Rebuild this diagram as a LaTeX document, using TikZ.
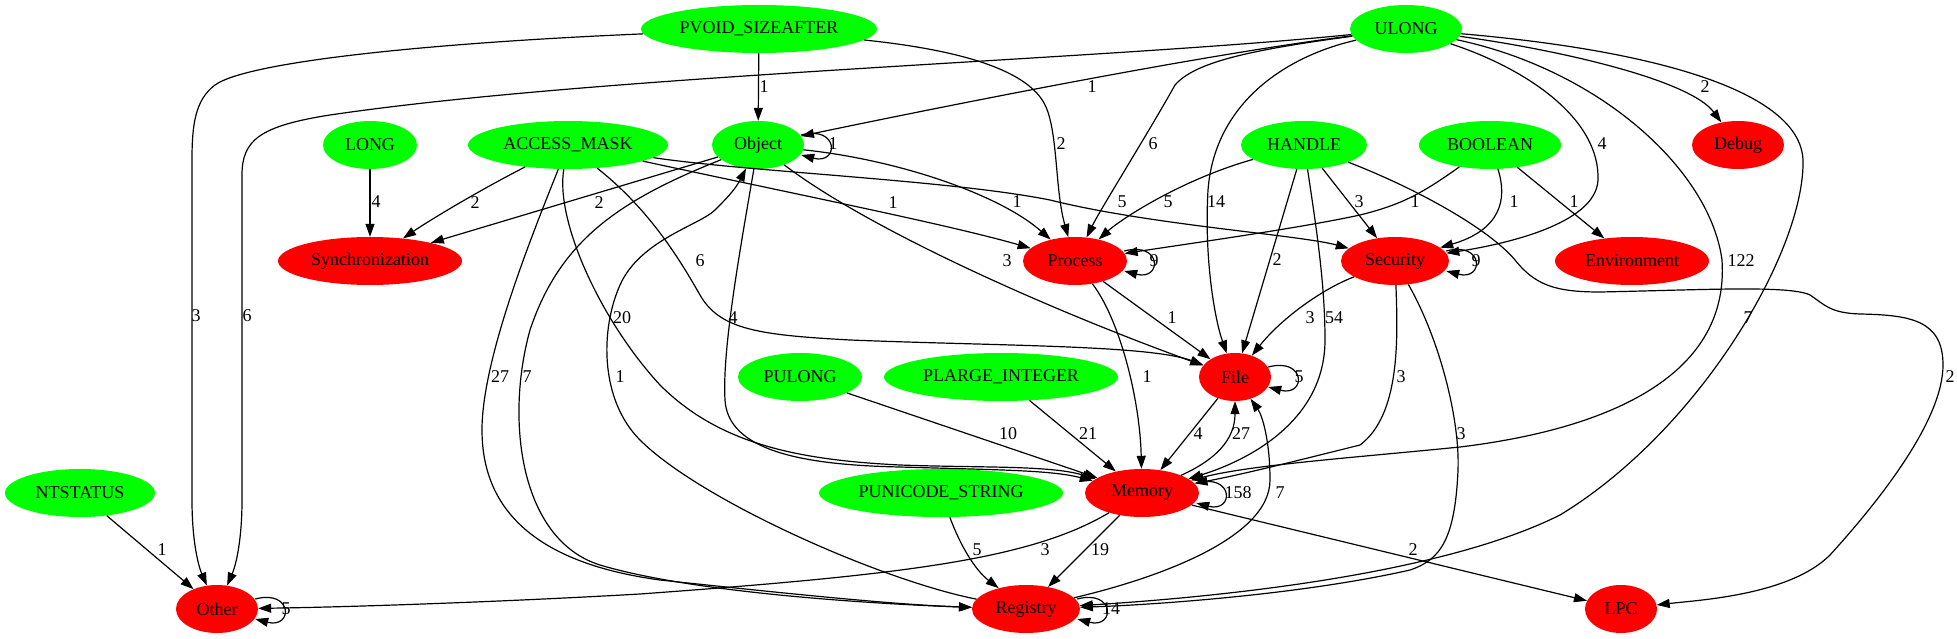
\documentclass[tikz,border=0pt]{standalone}
\usepackage{fontspec}
\setmainfont{Liberation Serif}
\usetikzlibrary{shapes.geometric,arrows.meta}
\definecolor{grn}{RGB}{0,255,0}
\definecolor{rd}{RGB}{255,0,0}
\begin{document}
\begin{tikzpicture}[x=1pt,y=-1pt,
 gnode/.style={ellipse,inner sep=0pt,minimum height=48pt,font=\fontsize{18}{20}\selectfont},
 gin/.style={gnode,fill=grn},
 rin/.style={gnode,fill=rd},
 edge/.style={-{Triangle[length=13pt,width=9pt]},line width=1.2pt},
 lbl/.style={inner sep=0pt,font=\fontsize{18}{20}\selectfont}]
\fill[white] (0,0) rectangle (1957,639);
\useasboundingbox (0,0) rectangle (1957,639);
% nodes
\node[gin,minimum width=236pt] (PVOID) at (759,29) {PVOID\_SIZEAFTER};
\node[gin,minimum width=112pt] (ULONG) at (1406,29) {ULONG};
\node[gin,minimum width=94pt] (LONG) at (370,145) {LONG};
\node[gin,minimum width=200pt] (ACCESS) at (568,145) {ACCESS\_MASK};
\node[gin,minimum width=92pt] (Object) at (758,145) {Object};
\node[gin,minimum width=126pt] (HANDLE) at (1304,145) {HANDLE};
\node[gin,minimum width=142pt] (BOOLEAN) at (1490,145) {BOOLEAN};
\node[rin,minimum width=92pt] (Debug) at (1738,145) {Debug};
\node[rin,minimum width=184pt] (Sync) at (370,261) {Synchronization};
\node[rin,minimum width=104pt] (Process) at (1075,261) {Process};
\node[rin,minimum width=108pt] (Security) at (1395,261) {Security};
\node[rin,minimum width=154pt] (Env) at (1632,261) {Environment};
\node[gin,minimum width=124pt] (PULONG) at (800,377) {PULONG};
\node[gin,minimum width=234pt] (PLARGE) at (1001,377) {PLARGE\_INTEGER};
\node[rin,minimum width=72pt] (File) at (1235,377) {File};
\node[gin,minimum width=150pt] (NTSTATUS) at (80,493) {NTSTATUS};
\node[gin,minimum width=244pt] (PUNI) at (941,493) {PUNICODE\_STRING};
\node[rin,minimum width=114pt] (Memory) at (1142,493) {Memory};
\node[rin,minimum width=82pt] (Other) at (217,609) {Other};
\node[rin,minimum width=108pt] (Registry) at (1026,609) {Registry};
\node[rin,minimum width=72pt] (LPC) at (1621,609) {LPC};
% edges from PVOID_SIZEAFTER
\draw[edge] (PVOID) .. controls (450,42) and (250,60) .. (215,85) .. controls (195,100) and (192,125) .. (192,160) -- (192,500) .. controls (192,540) and (198,565) .. (Other);
\draw[edge] (PVOID) -- (Object);
\draw[edge] (PVOID) .. controls (960,50) and (1030,70) .. (1046,107) .. controls (1058,135) and (1055,190) .. (Process);
% edges from ULONG
\draw[edge] (ULONG) .. controls (1100,60) and (600,75) .. (330,115) .. controls (260,126) and (242,140) .. (242,175) -- (242,500) .. controls (242,540) and (236,565) .. (Other);
\draw[edge] (ULONG) .. controls (1200,55) and (950,105) .. (Object);
\draw[edge] (ULONG) .. controls (1250,50) and (1195,62) .. (1175,85) .. controls (1150,130) and (1100,210) .. (Process);
\draw[edge] (ULONG) .. controls (1290,55) and (1215,100) .. (1208,190) .. controls (1204,260) and (1215,320) .. (File);
\draw[edge] (ULONG) .. controls (1560,50) and (1690,80) .. (Debug);
\draw[edge] (ULONG) .. controls (1530,70) and (1600,120) .. (1598,180) .. controls (1596,225) and (1500,245) .. (Security);
\draw[edge] (ULONG) .. controls (1600,70) and (1710,170) .. (1722,260) .. controls (1730,380) and (1600,430) .. (1460,447) .. controls (1350,458) and (1250,465) .. (Memory);
\draw[edge] (ULONG) .. controls (1650,50) and (1800,90) .. (1803,160) .. controls (1805,250) and (1700,430) .. (1560,515) .. controls (1450,570) and (1250,595) .. (Registry);
% LONG
\draw[edge] (LONG) -- (Sync);
% ACCESS_MASK
\draw[edge] (ACCESS) .. controls (480,190) and (430,220) .. (Sync);
\draw[edge] (ACCESS) .. controls (800,195) and (950,225) .. (Process);
\draw[edge] (ACCESS) .. controls (750,172) and (950,180) .. (1050,200) .. controls (1150,225) and (1300,235) .. (Security);
\draw[edge] (ACCESS) .. controls (650,210) and (680,260) .. (700,295) .. controls (720,330) and (760,335) .. (850,340) .. controls (1000,346) and (1150,345) .. (File);
\draw[edge] (ACCESS) .. controls (555,220) and (600,320) .. (660,385) .. controls (720,445) and (800,460) .. (900,465) .. controls (980,468) and (1050,465) .. (Memory);
\draw[edge] (ACCESS) .. controls (530,240) and (482,360) .. (482,430) .. controls (482,520) and (550,565) .. (660,580) .. controls (800,595) and (900,605) .. (Registry);
% Object
\draw[edge] ([shift={(-3,-10)}]Object.east) .. controls +(38,-10) and +(38,10) .. ([shift={(-3,10)}]Object.east);
\draw[edge] (Object) -- (Sync);
\draw[edge] (Object) .. controls (900,160) and (1000,195) .. (Process);
\draw[edge] (Object) .. controls (870,230) and (1050,310) .. (File);
\draw[edge] (Object) .. controls (740,250) and (722,350) .. (725,400) .. controls (728,450) and (800,465) .. (900,467) .. controls (1000,470) and (1050,470) .. (Memory);
\draw[edge] (Object) .. controls (620,200) and (560,240) .. (530,330) .. controls (505,420) and (520,540) .. (600,565) .. controls (700,595) and (900,605) .. (Registry);
% Registry -> Object
\draw[edge] (Registry) .. controls (880,580) and (700,500) .. (640,440) .. controls (600,400) and (600,330) .. (620,285) .. controls (640,240) and (700,225) .. (715,210) .. controls (725,200) and (735,190) .. (Object);
% HANDLE
\draw[edge] (HANDLE) .. controls (1180,180) and (1120,220) .. (Process);
\draw[edge] (HANDLE) -- (File);
\draw[edge] (HANDLE) .. controls (1315,220) and (1325,280) .. (1325,340) .. controls (1325,420) and (1250,460) .. (Memory);
\draw[edge] (HANDLE) -- (Security);
\draw[edge] (HANDLE) .. controls (1420,190) and (1490,230) .. (1515,260) .. controls (1535,285) and (1555,292) .. (1600,292) .. controls (1700,290) and (1790,285) .. (1810,295) .. controls (1825,305) and (1830,313) .. (1860,314) .. controls (1910,315) and (1943,320) .. (1943,365) .. controls (1943,420) and (1880,500) .. (1830,555) .. controls (1790,595) and (1700,600) .. (LPC);
% BOOLEAN
\draw[edge] (BOOLEAN) .. controls (1420,195) and (1400,205) .. (1360,215) .. controls (1300,228) and (1200,242) .. (Process);
\draw[edge] (BOOLEAN) .. controls (1508,200) and (1500,230) .. (Security);
\draw[edge] (BOOLEAN) -- (Env);
% Process
\draw[edge] ([shift={(-3,-10)}]Process.east) .. controls +(38,-10) and +(38,10) .. ([shift={(-3,10)}]Process.east);
\draw[edge] (Process) -- (File);
\draw[edge] (Process) .. controls (1120,320) and (1140,400) .. (Memory);
% Security
\draw[edge] ([shift={(-3,-10)}]Security.east) .. controls +(38,-10) and +(38,10) .. ([shift={(-3,10)}]Security.east);
\draw[edge] (Security) .. controls (1320,290) and (1280,320) .. (File);
\draw[edge] (Security) .. controls (1398,340) and (1400,415) .. (1360,445) .. controls (1300,460) and (1240,475) .. (Memory);
\draw[edge] (Security) .. controls (1440,340) and (1460,420) .. (1458,470) .. controls (1455,540) and (1440,560) .. (1410,570) .. controls (1300,595) and (1150,605) .. (Registry);
% PULONG, PLARGE
\draw[edge] (PULONG) -- (Memory);
\draw[edge] (PLARGE) -- (Memory);
% File
\draw[edge] ([shift={(-3,-10)}]File.east) .. controls +(38,-10) and +(38,10) .. ([shift={(-3,10)}]File.east);
\draw[edge] (File) -- (Memory);
% Memory
\draw[edge] (Memory) .. controls (1215,460) and (1235,440) .. (File);
\draw[edge] ([shift={(-3,-10)}]Memory.east) .. controls +(38,-10) and +(38,10) .. ([shift={(-3,10)}]Memory.east);
\draw[edge] (Memory) .. controls (1030,560) and (900,575) .. (640,594) .. controls (500,602) and (350,607) .. (Other);
\draw[edge] (Memory) -- (Registry);
\draw[edge] (Memory) -- (LPC);
% PUNICODE, NTSTATUS
\draw[edge] (PUNI) .. controls (960,545) and (975,570) .. (Registry);
\draw[edge] (NTSTATUS) -- (Other);
% Other, Registry
\draw[edge] ([shift={(-3,-10)}]Other.east) .. controls +(38,-10) and +(38,10) .. ([shift={(-3,10)}]Other.east);
\draw[edge] ([shift={(-3,-10)}]Registry.east) .. controls +(38,-10) and +(38,10) .. ([shift={(-3,10)}]Registry.east);
\draw[edge] (Registry) .. controls (1150,580) and (1270,540) .. (1270,480) .. controls (1270,440) and (1262,415) .. (File);
% labels
\node[lbl] (l1) at (196,316) {3};
\node[lbl] (l2) at (247,316) {6};
\node[lbl] (l3) at (764,87) {1};
\node[lbl] (l4) at (1061,144) {2};
\node[lbl] (l5) at (1092,87) {1};
\node[lbl] (l6) at (1153,144) {6};
\node[lbl] (l7) at (1216,202) {14};
\node[lbl] (l8) at (1705,87) {2};
\node[lbl] (l9) at (1602,144) {4};
\node[lbl] (l10) at (1741,261) {122};
\node[lbl] (l11) at (1748,318) {7};
\node[lbl] (l12) at (376,202) {4};
\node[lbl] (l13) at (475,203) {2};
\node[lbl] (l14) at (599,203) {2};
\node[lbl] (l15) at (893,203) {1};
\node[lbl] (l16) at (1122,202) {5};
\node[lbl] (l17) at (700,261) {6};
\node[lbl] (l18) at (622,318) {20};
\node[lbl] (l19) at (500,377) {27};
\node[lbl] (l20) at (527,377) {7};
\node[lbl] (l21) at (620,377) {1};
\node[lbl] (l22) at (833,144) {1};
\node[lbl] (l23) at (1017,202) {1};
\node[lbl] (l24) at (1007,261) {3};
\node[lbl] (l25) at (733,318) {4};
\node[lbl] (l26) at (1168,202) {5};
\node[lbl] (l27) at (1277,260) {2};
\node[lbl] (l28) at (1334,318) {54};
\node[lbl] (l29) at (1359,202) {3};
\node[lbl] (l30) at (1950,377) {2};
\node[lbl] (l31) at (1415,202) {1};
\node[lbl] (l32) at (1514,202) {1};
\node[lbl] (l33) at (1574,202) {1};
\node[lbl] (l34) at (1154,261) {9};
\node[lbl] (l35) at (1172,318) {1};
\node[lbl] (l36) at (1147,377) {1};
\node[lbl] (l37) at (1476,261) {9};
\node[lbl] (l38) at (1310,318) {3};
\node[lbl] (l39) at (1401,377) {3};
\node[lbl] (l40) at (1461,434) {3};
\node[lbl] (l41) at (1008,434) {10};
\node[lbl] (l42) at (1088,434) {21};
\node[lbl] (l43) at (1299,377) {5};
\node[lbl] (l44) at (1198,434) {4};
\node[lbl] (l45) at (1241,434) {27};
\node[lbl] (l46) at (1238,493) {158};
\node[lbl] (l47) at (1045,550) {3};
\node[lbl] (l48) at (1100,550) {19};
\node[lbl] (l49) at (1413,550) {2};
\node[lbl] (l50) at (977,550) {5};
\node[lbl] (l51) at (162,550) {1};
\node[lbl] (l52) at (286,609) {5};
\node[lbl] (l53) at (1111,609) {14};
\node[lbl] (l54) at (1280,493) {7};
\end{tikzpicture}
\end{document}
